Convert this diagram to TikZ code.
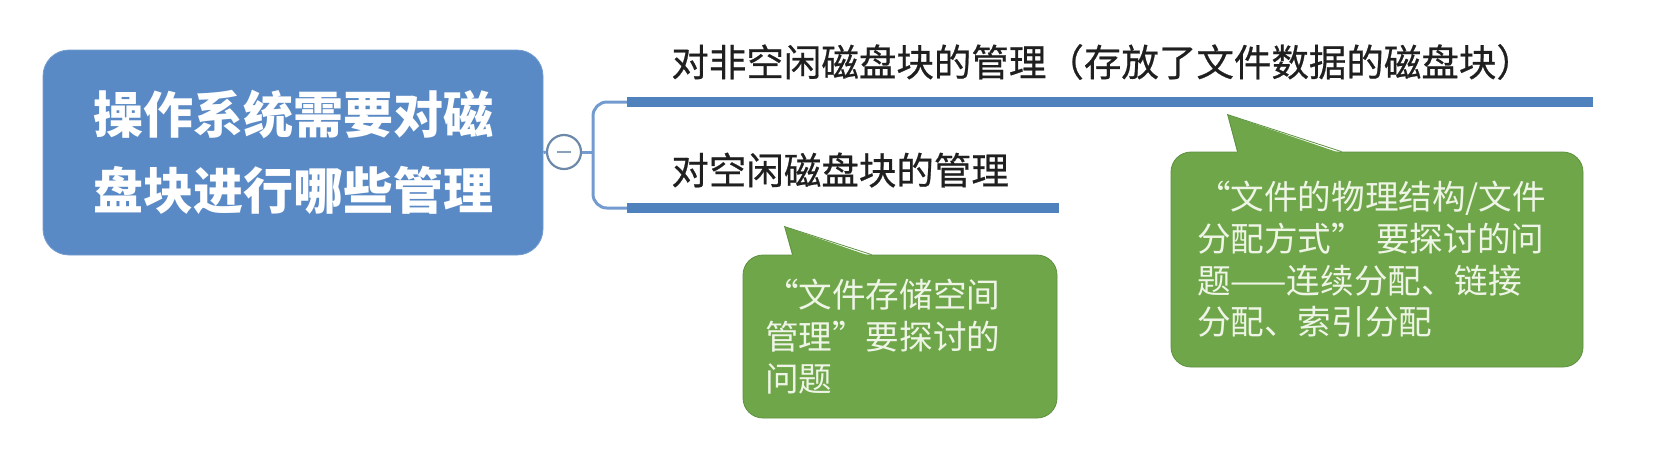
\documentclass[tikz,border=0pt]{standalone}
\usepackage{fontspec}
\setmainfont{Noto Sans CJK SC}
\newfontfamily\branchfont[FakeBold=0.6]{Noto Sans CJK SC}
\usepackage{tikz}
\definecolor{topicblue}{HTML}{5A8AC6}
\definecolor{lineblue}{HTML}{4F81BD}
\definecolor{bracketblue}{HTML}{739BCF}
\definecolor{foldgray}{HTML}{6C89AA}
\definecolor{notegreen}{HTML}{6FA64A}
\definecolor{noteedge}{HTML}{5E9140}
\definecolor{notetext}{HTML}{EEF5E6}

\begin{document}
\begin{tikzpicture}[x=0.5pt,y=-0.5pt,
    topic/.style={fill=topicblue,draw=topicblue!85!white,rounded corners=13pt,text=white,
        font=\fontsize{25}{38}\selectfont\bfseries,align=center,minimum width=250pt,minimum height=102.5pt},
    branch/.style={anchor=west,inner sep=0pt,text=black!88,font=\branchfont\fontsize{18.75}{22}\selectfont},
    bracket/.style={bracketblue,line width=1.5pt},
    underline/.style={lineblue,line width=5pt},
    note/.style={fill=notegreen,draw=noteedge,rounded corners=10pt,text=notetext,
        font=\fontsize{16.8}{20.8}\selectfont,align=left}]
    \useasboundingbox (0,0) rectangle (1669,463);
    \node[topic] (os) at (293,152.5) {操作系统需要对磁\\盘块进行哪些管理};
    \node[circle,draw=foldgray,fill=white,line width=1.1pt,minimum size=17pt,inner sep=0pt] (fold) at (564,152) {};
    \draw[foldgray!80,line width=1.4pt] ([xshift=-3.5pt]fold.center) -- ([xshift=3.5pt]fold.center);
    \node[branch] (used) at (671,62) {对非空闲磁盘块的管理（存放了文件数据的磁盘块）};
    \node[branch] (free) at (671,170) {对空闲磁盘块的管理};
    \coordinate (usedL) at (627,102);
    \coordinate (usedR) at (1593,102);
    \coordinate (freeL) at (627,208);
    \coordinate (freeR) at (1059,208);
    \coordinate (fork) at (593,152);
    \draw[bracket] (os.east) -- (fold.west);
    \draw[bracket] (fold.east) -- (fork);
    \draw[bracket,rounded corners=7pt] (usedL) -| (fork) |- (freeL);
    \draw[underline] (usedL) -- (usedR);
    \draw[underline] (freeL) -- (freeR);
    \node[note,text width=135pt,inner xsep=11pt,minimum height=81.5pt] (storage) at (900,336.5)
        {“文件存储空间\\管理”要探讨的\\问题};
    \node[note,text width=180pt,inner xsep=13pt,minimum height=107.5pt] (alloc) at (1377,259.5)
        {“文件的物理结构/文件\\分配方式” 要探讨的问\\题——连续分配、链接\\分配、索引分配};
    \foreach \n/\a/\b/\tx/\ty in {storage/50/129/42/-28, alloc/67/171/57/-37}{
        \coordinate (\n tip) at ([shift={(\tx,\ty)}]\n.north west);
        \fill[notegreen] ([shift={(\a,2)}]\n.north west) -- (\n tip) -- ([shift={(\b,2)}]\n.north west) -- cycle;
        \draw[noteedge] ([xshift=\a*0.5pt]\n.north west) -- (\n tip) -- ([xshift=\b*0.5pt]\n.north west);
    }
\end{tikzpicture}
\end{document}
